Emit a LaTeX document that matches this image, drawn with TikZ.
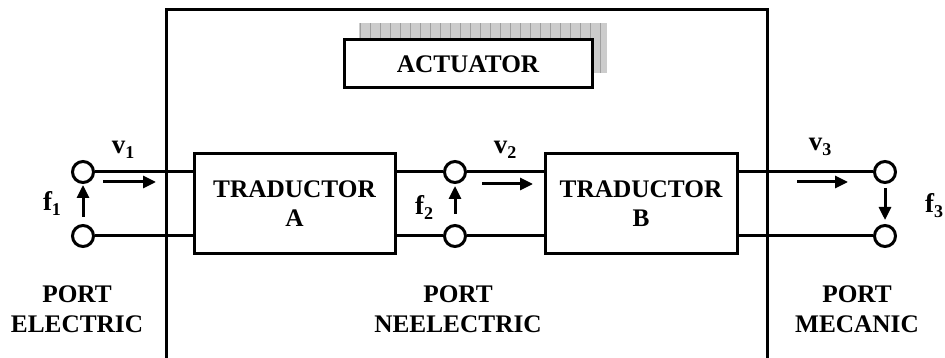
\documentclass[tikz,border=0pt]{standalone}
\usepackage{fontspec}
\setmainfont{Liberation Serif}
\usetikzlibrary{arrows.meta}
\newcommand{\qsym}[2]{{\fontsize{27}{27}\selectfont #1}\raisebox{-5pt}{\fontsize{18}{18}\selectfont #2}}
\begin{document}
\begin{tikzpicture}[x=1pt,y=-1pt,
  font=\bfseries\fontsize{25.3}{29.5}\selectfont,
  wire/.style={line width=3pt},
  term/.style={circle,draw,line width=3pt,minimum size=21pt,inner sep=0pt,fill=white},
  blockbox/.style={draw,line width=3pt,inner sep=0pt,align=center,fill=white},
  flow/.style={line width=3pt,-{Triangle[length=13pt,width=12pt]}},
  lbl/.style={inner sep=0pt,align=center}]
\useasboundingbox (0,0) rectangle (945,358);
% enclosing actuator outline (open at bottom)
\draw[wire] (166,358) -- (166,10) -- (767,10) -- (767,358);
% shadow of the actuator label
\fill[gray!40] (359,23) rectangle (607,73);
\draw[gray!75,line width=0.6pt,step=10] (359,23) grid (607,73);
\node[blockbox,minimum width=248pt,minimum height=48pt] (act) at (468,64) {ACTUATOR};
% transducers
\node[blockbox,minimum width=201pt,minimum height=99pt] (ba) at (294.5,203.5) {TRADUCTOR\\A};
\node[blockbox,minimum width=192pt,minimum height=99pt] (bb) at (641,203.5) {TRADUCTOR\\B};
% terminals
\node[term] (c1t) at (83,172) {};
\node[term] (c1b) at (83,236) {};
\node[term] (c2t) at (455,172) {};
\node[term] (c2b) at (455,236) {};
\node[term] (c3t) at (885,172) {};
\node[term] (c3b) at (885,236) {};
% wires
\draw[wire] (c1t) -- (ba.west |- c1t);
\draw[wire] (c1b) -- (ba.west |- c1b);
\draw[wire] (ba.east |- c2t) -- (c2t);
\draw[wire] (ba.east |- c2b) -- (c2b);
\draw[wire] (c2t) -- (bb.west |- c2t);
\draw[wire] (c2b) -- (bb.west |- c2b);
\draw[wire] (bb.east |- c3t) -- (c3t);
\draw[wire] (bb.east |- c3b) -- (c3b);
% flow arrows
\coordinate (v1s) at (103,182); \coordinate (v1e) at (156,182);
\coordinate (v2s) at (482,184); \coordinate (v2e) at (533,184);
\coordinate (v3s) at (797,182); \coordinate (v3e) at (848,182);
\coordinate (f1s) at (83,217); \coordinate (f1e) at (83,185);
\coordinate (f2s) at (455,214); \coordinate (f2e) at (455,186);
\coordinate (f3s) at (885,188); \coordinate (f3e) at (885,220);
\draw[flow] (v1s) -- (v1e);
\draw[flow] (v2s) -- (v2e);
\draw[flow] (v3s) -- (v3e);
\draw[flow] (f1s) -- (f1e);
\draw[flow] (f2s) -- (f2e);
\draw[flow] (f3s) -- (f3e);
% labels
\node[lbl] (lv1) at (123,150) {\qsym{v}{1}};
\node[lbl] (lv2) at (505,150) {\qsym{v}{2}};
\node[lbl] (lv3) at (820,147) {\qsym{v}{3}};
\node[lbl] (lf1) at (52,203) {\qsym{f}{1}};
\node[lbl] (lf2) at (424,207) {\qsym{f}{2}};
\node[lbl] (lf3) at (934,206) {\qsym{f}{3}};
\node[lbl] (pe) at (77,309) {PORT\\ELECTRIC};
\node[lbl] (pn) at (458,309) {PORT\\NEELECTRIC};
\node[lbl] (pm) at (857,309) {PORT\\MECANIC};
\end{tikzpicture}
\end{document}
